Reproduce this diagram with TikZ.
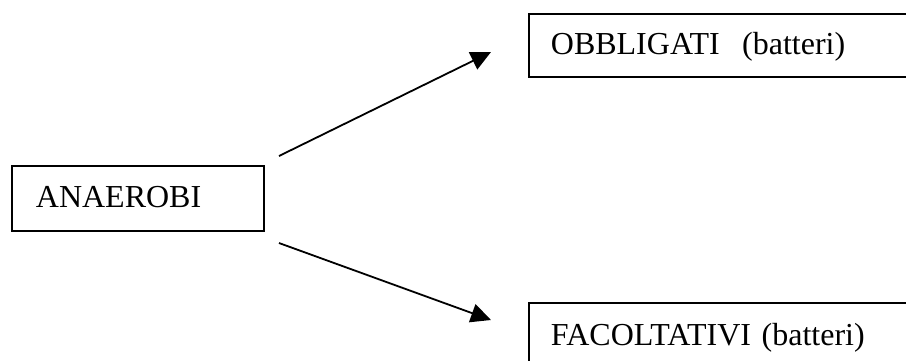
\documentclass[tikz,border=0pt]{standalone}
\usepackage{fontspec}
\setmainfont{Liberation Serif}
\usetikzlibrary{arrows.meta}
\begin{document}
\begin{tikzpicture}[x=1pt,y=-1pt,
  box/.style={draw=black, line width=1.8pt, anchor=north west, inner ysep=0pt,
    align=left, font=\fontsize{32}{32}\selectfont},
  link/.style={line width=1.8pt, -{Triangle[length=20pt,width=19pt]}}]
  \useasboundingbox (0,0) rectangle (906,360);
  \clip (0,0) rectangle (906,360);
  % left box
  \node[box, inner xsep=24pt, text width=204pt, text height=42pt, text depth=23pt]
    (anaerobi) at (11,165) {ANAEROBI};
  % right boxes, running past the right edge
  \node[box, inner xsep=22pt, text width=358pt, text height=41pt, text depth=22pt]
    (obbligati) at (528,13) {OBBLIGATI\hspace{0.7em}(batteri)};
  \node[box, inner xsep=22pt, text width=358pt, text height=43pt, text depth=40pt]
    (facoltativi) at (528,302) {FACOLTATIVI (batteri)};
  % arrow ends
  \coordinate (a1s) at (279,156);
  \coordinate (a1e) at (491,52);
  \coordinate (a2s) at (279,243);
  \coordinate (a2e) at (491,320);
  \draw[link] (a1s) -- (a1e);
  \draw[link] (a2s) -- (a2e);
\end{tikzpicture}
\end{document}
